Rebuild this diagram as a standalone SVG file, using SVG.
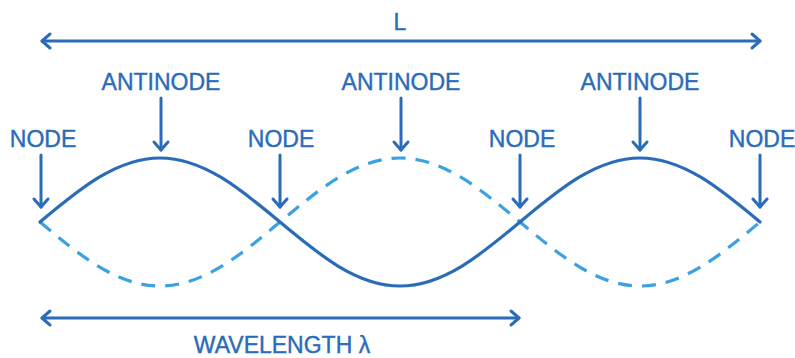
<svg xmlns="http://www.w3.org/2000/svg" width="795" height="358" viewBox="0 0 795 358">
  <style>
    .lbl { font-family: "Liberation Sans", Arial, sans-serif; font-size: 23px; fill: #2a6cb8; stroke: #2a6cb8; stroke-width: 0.4; text-anchor: middle; }
    .ptr { fill: none; stroke: #2a6cb8; stroke-width: 3; stroke-linecap: round; }
    .wave { fill: none; stroke: #2a6cb8; stroke-width: 3.2; stroke-linecap: round; }
    .wave-alt { fill: none; stroke: #3aa2e2; stroke-width: 3.2; stroke-linecap: butt; stroke-dasharray: 14 10; }
  </style>
  <defs>
    <marker id="head" markerUnits="userSpaceOnUse" markerWidth="20" markerHeight="20" refX="0" refY="0" viewBox="-10 -10 20 20" orient="auto-start-reverse" overflow="visible">
      <path d="M-8,-7 L0,0 L-8,7" fill="none" stroke="#2a6cb8" stroke-width="3" stroke-linecap="round" stroke-linejoin="round"/>
    </marker>
  </defs>

  <!-- standing wave: two extreme positions -->
  <g id="waves">
    <path class="wave-alt" d="M40 222 c39.14 32.79 76.57 64 120 64 c43.43 0 80.86 -31.21 120 -64 c39.14 -32.79 76.57 -64 120 -64 c43.43 0 80.86 31.21 120 64 c39.14 32.79 76.57 64 120 64 c43.43 0 80.86 -31.21 120 -64"/>
    <path class="wave" d="M40 222 c39.14 -32.79 76.57 -64 120 -64 c43.43 0 80.86 31.21 120 64 c39.14 32.79 76.57 64 120 64 c43.43 0 80.86 -31.21 120 -64 c39.14 -32.79 76.57 -64 120 -64 c43.43 0 80.86 31.21 120 64"/>
  </g>

  <!-- length and wavelength dimension arrows, label pointers -->
  <g id="connectors">
    <line class="ptr" x1="42" y1="41" x2="760" y2="41" marker-start="url(#head)" marker-end="url(#head)"/>
    <line class="ptr" x1="42" y1="318" x2="519" y2="318" marker-start="url(#head)" marker-end="url(#head)"/>
    <line class="ptr" x1="161" y1="98" x2="161" y2="150" marker-end="url(#head)"/>
    <line class="ptr" x1="401" y1="98" x2="401" y2="150" marker-end="url(#head)"/>
    <line class="ptr" x1="640" y1="98" x2="640" y2="150" marker-end="url(#head)"/>
    <line class="ptr" x1="41" y1="155" x2="41" y2="207" marker-end="url(#head)"/>
    <line class="ptr" x1="280" y1="155" x2="280" y2="207" marker-end="url(#head)"/>
    <line class="ptr" x1="520" y1="155" x2="520" y2="207" marker-end="url(#head)"/>
    <line class="ptr" x1="760" y1="155" x2="760" y2="207" marker-end="url(#head)"/>
  </g>

  <g id="length-label"><text class="lbl" x="400" y="30">L</text></g>
  <g id="wavelength-label"><text class="lbl" x="282" y="353">WAVELENGTH λ</text></g>

  <g id="antinode-1"><text class="lbl" x="161" y="90">ANTINODE</text></g>
  <g id="antinode-2"><text class="lbl" x="401" y="90">ANTINODE</text></g>
  <g id="antinode-3"><text class="lbl" x="640" y="90">ANTINODE</text></g>

  <g id="node-1"><text class="lbl" x="43" y="147">NODE</text></g>
  <g id="node-2"><text class="lbl" x="281" y="147">NODE</text></g>
  <g id="node-3"><text class="lbl" x="522" y="147">NODE</text></g>
  <g id="node-4"><text class="lbl" x="762" y="147">NODE</text></g>
</svg>
